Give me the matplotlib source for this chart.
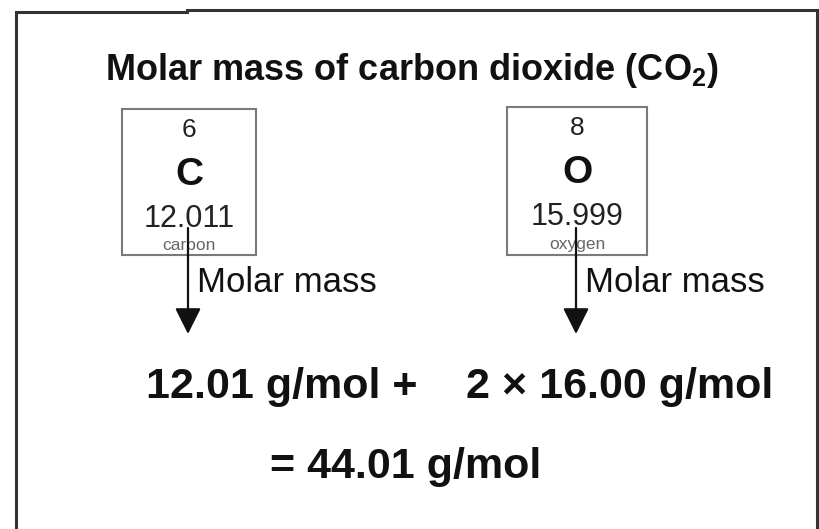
import matplotlib
matplotlib.use("Agg")
import matplotlib.pyplot as plt
from matplotlib.patches import Rectangle

# ---- data ----
title = "Molar mass of carbon dioxide (CO$_2$)"
symbols = ["C", "O"]
atomic_numbers = [6, 8]
atomic_masses = ["12.011", "15.999"]
element_names = ["carbon", "oxygen"]
arrow_label = "Molar mass"
equation_terms = ["12.01 g/mol +", "2 \u00d7 16.00 g/mol"]
result = "= 44.01 g/mol"

plt.rcParams['font.family'] = ['Liberation Sans', 'DejaVu Sans']
plt.rcParams['mathtext.fontset'] = 'custom'
plt.rcParams['mathtext.rm'] = 'Liberation Sans:bold'
plt.rcParams['mathtext.it'] = 'Liberation Sans:bold'
plt.rcParams['mathtext.bf'] = 'Liberation Sans:bold'

W, H = 819, 529
fig = plt.figure(figsize=(W / 100, H / 100), dpi=100)
ax = fig.add_axes([0, 0, 1, 1])
ax.set_xlim(0, W)
ax.set_ylim(H, 0)
ax.axis("off")

# outer frame
fc = "#333333"
ax.plot([16, 16, 187], [H + 5, 12, 12], color=fc, lw=2.2, solid_joinstyle="miter")
ax.plot([187, 817, 817], [10, 10, H + 5], color=fc, lw=2.2, solid_joinstyle="miter")

# title
ax.text(412, 70, title, fontsize=26, fontweight="bold", ha="center", va="center",
        color="#111111")

# element boxes
boxes = [(122, 109, 134, 146), (507, 107, 140, 148)]
for i, (x0, y0, w, h) in enumerate(boxes):
    cx = x0 + w / 2
    ax.add_patch(Rectangle((x0, y0), w, h, fill=False, ec="#7a7a7a", lw=1.5))
    ax.text(cx, y0 + 21, str(atomic_numbers[i]), fontsize=19, ha="center",
            va="center", color="#222222")
    ax.text(cx, y0 + 66, symbols[i], fontsize=28, fontweight="bold", ha="center",
            va="center", color="#111111")
    ax.text(cx, y0 + 110, atomic_masses[i], fontsize=22, ha="center",
            va="center", color="#222222")
    ax.text(cx, y0 + 137, element_names[i], fontsize=12.5, ha="center",
            va="center", color="#666666")
    # arrow
    ax_x = [188, 576][i]
    ax.annotate("", xy=(ax_x, 334), xytext=(ax_x, 228),
                arrowprops=dict(arrowstyle="-|>,head_length=1.6,head_width=0.8",
                                color="#111111", lw=1.6, shrinkA=0, shrinkB=0))
    ax.text(ax_x + 9, 283, arrow_label, fontsize=25, ha="left", va="center",
            color="#111111")

# equation
ax.text(146, 387, equation_terms[0], fontsize=31, fontweight="bold", ha="left",
        va="center", color="#111111")
ax.text(466, 387, equation_terms[1], fontsize=31, fontweight="bold", ha="left",
        va="center", color="#111111")
ax.text(270, 467, result, fontsize=31, fontweight="bold", ha="left",
        va="center", color="#111111")

fig.savefig("out.png", dpi=100)
